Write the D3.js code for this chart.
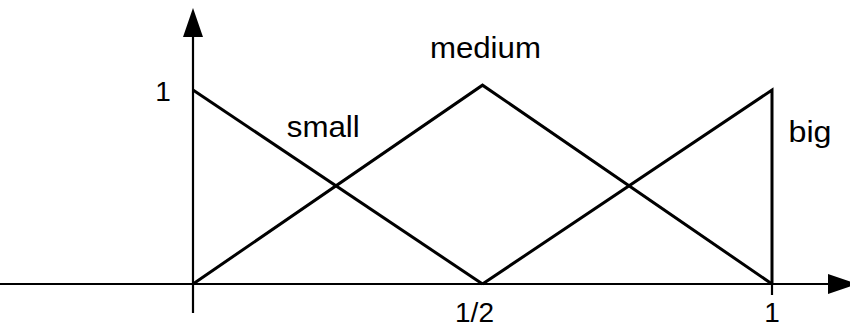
<!DOCTYPE html>
<html lang="en">
<head>
    <meta charset="UTF-8">
    <title>Fuzzy membership functions: small, medium, big</title>
    <script src="https://d3js.org/d3.v7.min.js"></script>
    <style>
        body { margin: 0; background: #fff; }
        .axis-line { stroke: #000; stroke-width: 2.2; fill: none; }
        .mf { stroke: #000; stroke-width: 3; fill: none; stroke-linejoin: miter; }
        .lbl { font-family: "Liberation Sans", Arial, sans-serif; font-size: 30px; fill: #000; }
        .tick-lbl { font-size: 28px; }
    </style>
</head>
<body>
<svg width="850" height="329"></svg>
<script>
    // membership functions (x in [0,1], degree of membership)
    const smallPts  = [[0, 1], [0.5, 0]];
    const mediumPts = [[0, 0], [0.5, 1.025], [1, 0]];
    const bigPts    = [[0.5, 0], [1, 1], [1, 0]];
    const seriesNames = ["small", "medium", "big"];

    const xTickVals = [0.5, 1];
    const xTickLabels = ["1/2", "1"];
    const yTickVals = [1];
    const yTickLabels = ["1"];

    const svg = d3.select("svg");

    const x = d3.scaleLinear().domain([0, 1]).range([193, 772]);
    const y = d3.scaleLinear().domain([0, 1]).range([284, 90]);

    // axes
    svg.append("line").attr("class", "axis-line")
        .attr("x1", 0).attr("x2", 830)
        .attr("y1", y(0)).attr("y2", y(0));
    svg.append("line").attr("class", "axis-line")
        .attr("x1", x(0)).attr("x2", x(0))
        .attr("y1", 313).attr("y2", 35);

    // arrow heads
    svg.append("path")
        .attr("d", `M${x(0) - 10},37 L${x(0)},8 L${x(0) + 10},37 Z`)
        .attr("fill", "#000");
    svg.append("path")
        .attr("d", `M828,${y(0) - 10} L857,${y(0)} L828,${y(0) + 10} Z`)
        .attr("fill", "#000");

    // small tick below axis at x = 1
    svg.append("line").attr("class", "axis-line")
        .attr("x1", x(1)).attr("x2", x(1))
        .attr("y1", y(0)).attr("y2", y(0) + 11);

    // tick labels
    svg.selectAll(".xlab")
        .data(xTickVals)
        .enter().append("text")
        .attr("class", "lbl tick-lbl xlab")
        .attr("x", d => x(d) - (d === 0.5 ? 8 : 0))
        .attr("y", 322)
        .attr("text-anchor", "middle")
        .text((d, i) => xTickLabels[i]);

    svg.selectAll(".ylab")
        .data(yTickVals)
        .enter().append("text")
        .attr("class", "lbl tick-lbl ylab")
        .attr("x", x(0) - 30)
        .attr("y", y(1) + 11)
        .attr("text-anchor", "middle")
        .text((d, i) => yTickLabels[i]);

    // membership lines
    const line = d3.line().x(d => x(d[0])).y(d => y(d[1]));
    svg.selectAll(".mf")
        .data([smallPts, mediumPts, bigPts])
        .enter().append("path")
        .attr("class", "mf")
        .attr("d", line);

    // series labels
    const labelPos = [
        { x: x(0.225), y: 137, w: 73 },
        { x: x(0.505), y: 58, w: 111 },
        { x: x(1) + 38, y: 142, w: 43 }
    ];
    svg.selectAll(".slab")
        .data(seriesNames)
        .enter().append("text")
        .attr("class", "lbl slab")
        .attr("x", (d, i) => labelPos[i].x)
        .attr("y", (d, i) => labelPos[i].y)
        .attr("text-anchor", "middle")
        .attr("textLength", (d, i) => labelPos[i].w)
        .attr("lengthAdjust", "spacingAndGlyphs")
        .text(d => d);
</script>
</body>
</html>
